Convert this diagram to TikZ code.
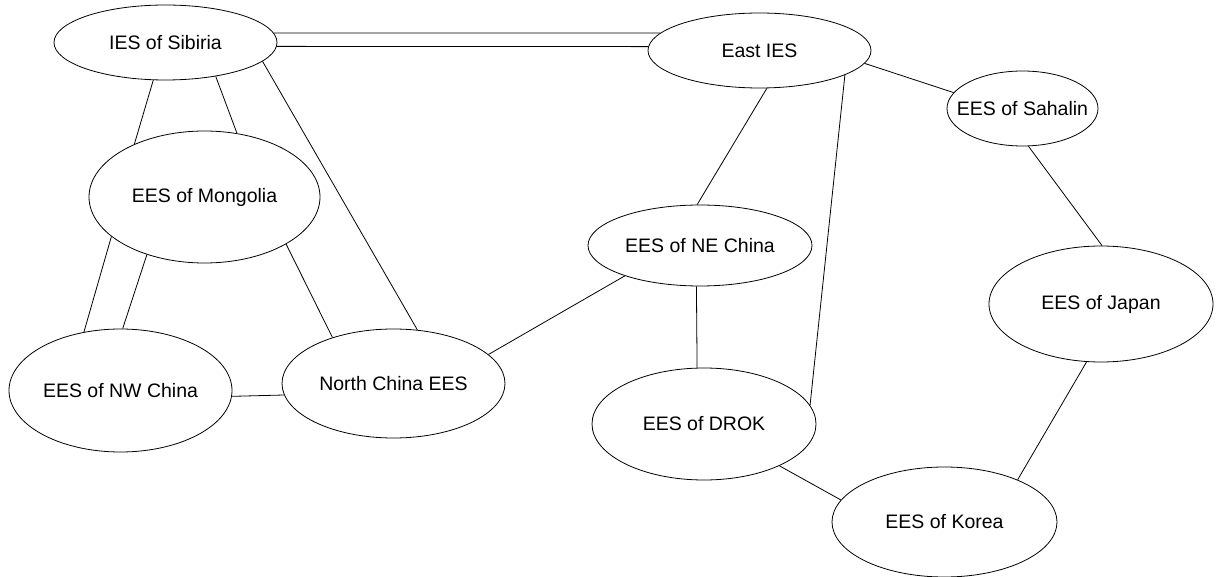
\documentclass[tikz,border=0pt]{standalone}
\usepackage{fontspec}
\setmainfont{Liberation Sans}
\usetikzlibrary{shapes.geometric}

\tikzset{
    stn/.style={draw, ellipse, inner sep=0pt, line width=0.8pt},
    tie/.style={line width=0.8pt}
}

\begin{document}
\begin{tikzpicture}[x=1pt, y=-1pt, font=\fontsize{19.5}{23}\selectfont]
            \useasboundingbox (0,0) rectangle (1216,577);

            % Nodes (pixel positions)
            \node[stn, minimum width=223pt, minimum height=75pt, label=center:{IES of Sibiria}] (sibiria) at (165.5,42.5) {};
            \node[stn, minimum width=223pt, minimum height=75pt, label=center:{East IES}] (east) at (759.5,50.5) {};
            \node[stn, minimum width=151pt, minimum height=75pt, label=center:{EES of Sahalin}] (sahalin) at (1022.5,108.5) {};

            \node[stn, minimum width=231pt, minimum height=132pt, label=center:{EES of Mongolia}] (mongolia) at (204.5,197) {};
            \node[stn, minimum width=224pt, minimum height=81pt, label=center:{EES of NE China}] (nechina) at (700,245.5) {};
            \node[stn, minimum width=224pt, minimum height=116pt, label=center:{EES of Japan}] (japan) at (1101,304) {};

            \node[stn, minimum width=223pt, minimum height=123pt, label=center:{EES of NW China}] (nwchina) at (120.5,390.5) {};
            \node[stn, minimum width=223pt, minimum height=109pt, label=center:{North China EES}] (north) at (393.5,383.5) {};
            \node[stn, minimum width=224pt, minimum height=112pt, label=center:{EES of DROK}] (drok) at (704,424) {};
            \node[stn, minimum width=225pt, minimum height=110pt, label=center:{EES of Korea}] (korea) at (944.5,522) {};

            % Lines
            \draw[tie] (sibiria.5) -- (east.170);
            \draw[tie] (sibiria.-2.3) -- (east.178.2);

            \draw[tie] (sibiria.252.4) -- (mongolia.143.8);
            \draw[tie] (sibiria.326.4) -- (mongolia.63.8);
            \draw[tie] (sibiria.349.4) -- (north.66.6);

            \draw[tie] (mongolia.203.5) -- (nwchina.122.7);
            \draw[tie] (mongolia.225.3) -- (nwchina.88.6);
            \draw[tie] (mongolia.330.6) -- (north.143.8);

            \draw[tie] (nwchina.357.2) -- (north.186.6);
            \draw[tie] (north.17.9) -- (nechina.202.7);

            \draw[tie] (nechina.94.6) -- (east.281.3);
            \draw[tie] (nechina.265.8) -- (drok.97.1);
            \draw[tie] (east.344.4) -- (drok.10.3);
            \draw[tie] (east.353.8) -- (sahalin.167.4);

            \draw[tie] (sahalin.279.8) -- (japan.89);
            \draw[tie] (japan.256.4) -- (korea.30.3);
            \draw[tie] (drok.331.1) -- (korea.168.9);
        \end{tikzpicture}
\end{document}
